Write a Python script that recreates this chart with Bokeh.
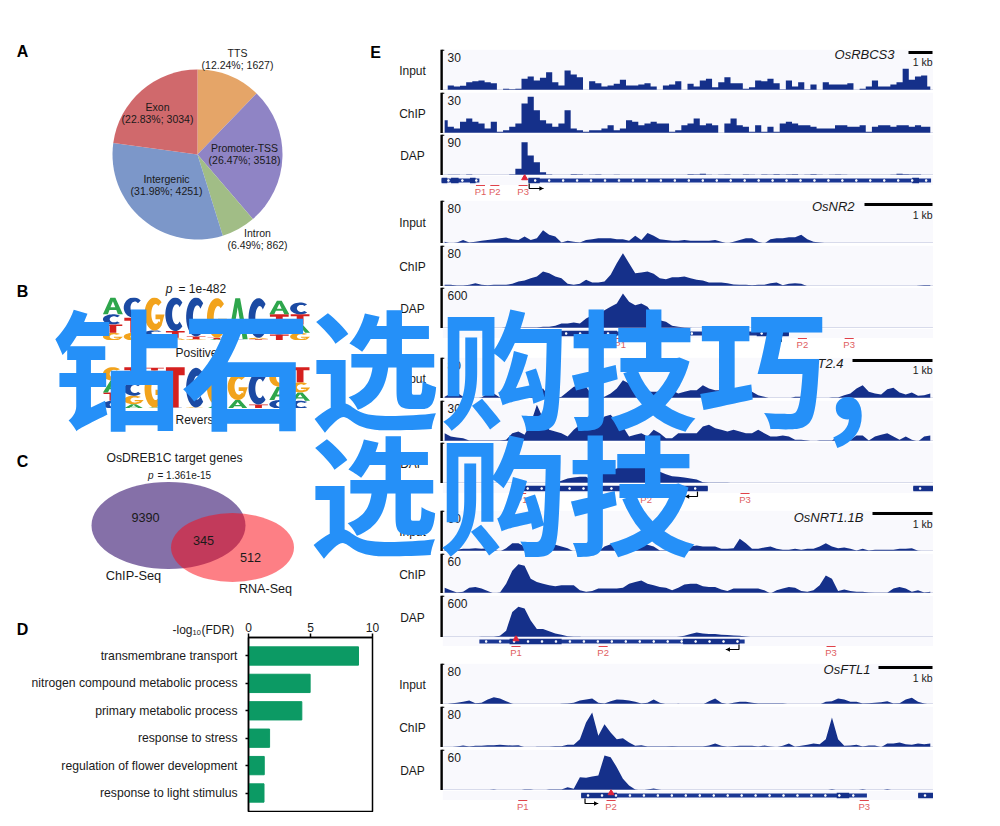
import numpy as np
from bokeh.embed import file_html
from bokeh.resources import INLINE
from bokeh.plotting import figure
from bokeh.models import Range1d, FactorRange, FixedTicker
from bokeh.core.properties import value

# ---------- data ----------
pie_names = ["TTS", "Promoter-TSS", "Intron", "Intergenic", "Exon"]
pie_pcts = [12.24, 26.47, 6.49, 31.98, 22.83]
pie_counts = [1627, 3518, 862, 4251, 3034]

go_terms = ["transmembrane transport", "nitrogen compound metabolic process",
            "primary metabolic process", "response to stress",
            "regulation of flower development", "response to light stimulus"]
go_values = [8.87, 4.97, 4.3, 1.7, 1.27, 1.25]

venn_counts = [9390, 345, 512]

logo_positive = [
    [("G",23),("T",25),("C",30),("A",50)], [("G",23),("T",45),("C",60)],
    [("T",15),("C",15),("G",98)], [("G",8),("T",20),("C",100)],
    [("G",4),("T",8),("C",116)], [("A",4),("T",4),("G",118)],
    [("C",4),("A",122)], [("T",4),("G",4),("C",118)],
    [("T",18),("C",25),("T",35),("A",40)], [("G",23),("A",25),("T",30),("C",35)]]
logo_reverse = [
    [("C",23),("T",25),("A",35),("G",40)], [("A",13),("G",25),("C",40),("T",45)],
    [("A",3),("G",110),("T",8)], [("C",3),("T",120)],
    [("G",3),("C",118)], [("A",10),("G",108)],
    [("A",25),("G",80),("T",15)], [("T",12),("C",95),("T",10)],
    [("C",25),("A",40),("G",55)], [("C",23),("A",25),("G",30),("T",45)]]

rbcs_input = [0,15,12,14,25,28,30,25,22,0,5,4,5,35,42,30,38,55,25,15,60,48,40,0,28,22,12,15,20,32,15,15,18,22,12,0,15,18,28,0,20,12,30,35,10,25,40,22,22,5,10,30,28,35,22,3,30,12,25,3,18,0,25,18,18,18,22,0,5,12,30,12,12,18,25,65,32,42,45,12]
rbcs_chip = [40,20,15,35,45,35,30,15,35,5,10,20,30,90,110,70,40,30,20,30,70,15,10,5,10,10,15,25,10,15,40,35,25,30,35,30,30,5,10,25,30,45,25,30,25,0,30,45,25,20,5,25,5,20,5,30,35,30,25,25,20,15,15,15,25,25,20,20,25,5,20,25,25,20,25,25,20,25,20,20]
rbcs_dap = [0,2,2,1,3,1,0,0,0,0,1,3,20,100,60,40,10,3,1,1,0,4,3,0,2,3,1,0,2,0,0,0,0,0,0,1,1,0,0,0,4,3,5,2,0,2,3,0,0,3,2,0,3,2,4,2,3,4,1,2,4,2,0,2,3,2,0,0,0,0,0,0,0,2,5,4,3,3,0,0]
nr2_input = [5,0,3,10,3,5,8,10,12,15,17,12,10,20,10,15,38,25,20,3,8,5,3,10,12,15,15,15,12,12,8,22,10,30,22,12,10,8,8,10,8,8,8,8,10,5,0,5,10,15,15,5,0,12,15,15,18,18,25,12,5,3,1,1,1,1,0,0,0,0,0,0,0,0,0,0,0,0,0,0]
nr2_chip = [5,5,3,3,5,10,5,4,5,5,5,8,15,18,25,30,45,40,30,25,8,5,8,20,12,12,15,35,70,100,70,40,42,45,38,25,22,28,28,30,25,20,18,12,12,12,10,6,5,5,4,5,5,10,12,4,8,10,8,1,0,0,0,0,0,0,0,0,0,0,0,0,0,0,0,0,0,2,4,4]
nr2_dap = [0,0,0,0,0,0,0,0,0,1,3,3,2,3,3,3,5,5,8,15,15,18,15,30,40,40,55,65,75,105,80,70,75,65,40,25,20,8,5,3,2,0,0,0,0,0,0,0,0,0,0,0,0,0,0,0,0,0,0,0,0,0,0,0,0,0,0,0,0,0,0,0,0,0,0,0,0,0,0,0]
nrt24_input = [5,15,18,5,5,0,3,15,15,3,5,10,20,22,5,22,30,5,0,5,20,35,40,35,10,5,5,15,30,55,45,40,25,20,20,20,25,25,15,20,25,25,40,30,25,25,25,25,25,25,20,10,5,0,0,0,0,5,5,5,0,0,0,3,3,10,15,30,40,20,15,12,28,32,18,12,18,8,10,15]
nrt24_chip = [25,15,12,10,3,3,3,3,3,3,5,25,30,20,55,110,70,35,30,25,15,35,50,55,60,55,75,80,60,45,15,20,25,15,35,25,10,10,25,25,25,25,45,50,40,35,30,35,30,25,25,35,25,15,15,18,15,5,5,3,0,3,3,3,15,5,5,18,18,3,15,20,25,15,5,15,5,0,15,18]
nrt24_dap = [0,0,0,1,1,0,0,0,0,0,0,0,0,0,0,0,0,1,3,8,15,18,20,20,10,18,35,40,45,55,60,60,60,60,50,35,28,22,20,18,15,12,4,2,2,2,2,1,1,0,0,0,0,0,0,0,0,0,0,0,0,0,0,0,0,0,0,0,0,1,1,0,0,0,0,0,0,0,0,0]
nrt11_input = [15,5,5,8,8,10,8,10,5,0,10,25,25,15,10,5,5,15,20,15,10,0,0,5,5,0,15,22,8,10,15,15,18,20,15,3,3,3,3,5,15,18,15,15,15,8,8,10,38,25,8,8,12,15,8,5,5,8,5,8,8,15,25,15,10,12,8,3,8,3,5,5,5,5,8,8,10,2,1,1]
nrt11_chip = [18,10,3,5,18,20,15,8,0,3,30,70,90,85,45,35,30,25,22,25,25,25,10,5,8,15,15,15,15,18,30,35,40,30,25,20,18,10,18,28,30,30,22,20,20,12,8,15,15,15,15,15,10,0,10,15,20,18,8,5,10,25,55,45,8,12,8,5,5,3,2,2,2,15,20,15,5,10,3,5]
nrt11_dap = [0,0,0,0,0,1,2,2,2,5,20,75,90,85,50,25,25,18,12,8,4,2,2,0,0,0,0,0,0,1,0,0,1,0,0,1,1,0,2,5,10,15,12,10,10,8,7,6,5,3,1,0,0,0,0,1,0,0,0,0,0,0,0,0,0,0,0,0,0,0,0,0,0,0,0,0,0,0,0,0]
ftl_input = [0,3,5,8,12,4,5,15,22,18,10,2,0,0,0,0,0,0,0,2,3,5,12,15,18,5,3,10,15,14,12,8,3,5,15,5,1,0,2,0,0,0,0,10,18,5,1,5,8,8,5,3,3,3,3,3,1,0,0,0,0,0,8,10,18,15,8,8,3,4,5,7,10,3,4,15,20,8,3,0]
ftl_chip = [1,1,3,6,3,5,5,7,7,8,7,6,7,1,0,2,2,2,4,4,8,8,25,75,105,35,70,45,25,28,15,5,7,3,3,3,3,4,3,3,3,3,3,6,12,5,2,4,5,5,5,3,6,3,1,5,12,2,5,8,12,10,25,90,25,5,6,8,3,6,6,1,12,12,15,10,8,12,10,12]
ftl_dap = [0,0,0,0,1,1,1,1,3,0,0,0,0,3,3,0,0,3,3,3,10,5,40,38,42,45,105,100,70,35,15,3,0,3,6,2,0,0,0,0,0,0,0,0,0,0,0,0,0,0,0,0,0,0,0,0,0,0,0,0,0,0,0,4,0,0,0,0,4,0,0,0,4,0,0,0,0,0,0,0]

gene_names = ["OsRBCS3", "OsNR2", "OsNRT2.4", "OsNRT1.1B", "OsFTL1"]
track_scale_text = [["30", "30", "90"], ["80", "80", "600"], ["80", "30", "60"], ["60", "60", "600"], ["80", "80", "60"]]
track_values = [[rbcs_input, rbcs_chip, rbcs_dap], [nr2_input, nr2_chip, nr2_dap],
                [nrt24_input, nrt24_chip, nrt24_dap], [nrt11_input, nrt11_chip, nrt11_dap],
                [ftl_input, ftl_chip, ftl_dap]]
gene_thin = [[(215,315),(445,1512)], [(490,1135)], [(425,920),(1465,1517)], [(315,1018)], [(585,1342),(1478,1517)]]
gene_thick = [[(215,230),(240,260),(290,305),(445,475),(1462,1480)], [(520,680),(1050,1135)],
              [(425,920),(1465,1517)], [(395,533),(855,1005)], [(585,680),(1262,1295),(1478,1517)]]
probe_pos = [[318,356,431], [688,1171,1295], [427,757,1019], [412,643,1247], [430,664,1335]]
probe_hit = [435, 688, 427, 412, 664]
probe_hit_shown = [True, False, False, True, True]
tss_arrow = [(447,485), (1115,1095), (893,860), (1003,968), (595,630)]

# ---------- layout geometry (reference pixels) ----------
track_boxes = [[(49,90),(92,133),(134,175)], [(200,243),(245,286),(287,328)],
               [(357,398),(400,441),(442,483)], [(510,551),(553,593),(595,637)],
               [(663,704),(706,747),(749,790)]]
gene_y = [180, 333, 488, 641, 795]
bar_left = [908, 864, 852, 872, 878]
name_right = [894, 854, 843, 863, 870]
name_y = [54, 206, 363, 517, 669]
bar_y = [52, 204, 360, 513, 667]
kb_y = [61, 214, 369, 523, 677]
SANS = "Liberation Sans"
NAVY = "#15308a"
children = []

def place(fig, x0, y0):
    fig.styles = {"position": "absolute", "left": f"{x0}px", "top": f"{y0}px"}
    children.append(fig)
    return fig

def blank(x0, y0, x1, y1, xr, yr):
    f = figure(width=int(x1-x0), height=int(y1-y0), x_range=xr, y_range=yr, output_backend="svg",
               toolbar_location=None, min_border=0, outline_line_color=None,
               background_fill_alpha=0, border_fill_alpha=0, tools="")
    f.axis.visible = False
    f.grid.visible = False
    return place(f, x0, y0)

# panel A: pie
cum = np.cumsum([0] + pie_pcts) / sum(pie_pcts) * 2 * np.pi
pa = blank(107, 64, 287, 244, Range1d(-90, 90), Range1d(-90, 90))
pie_colors = ["#e5a568", "#8f84c5", "#a1bd86", "#7c97c9", "#d0696c"]
pa.wedge(x=0, y=0, radius=85, start_angle=np.pi/2 - cum[:-1], end_angle=np.pi/2 - cum[1:],
         direction="clock", fill_color=pie_colors, line_color=None)

# panel B: logos
def letter_shape(ch):
    t = np.linspace(np.radians(45), np.radians(315), 30)
    if ch == "A":
        return [[0,.25,.33,.67,.75,1,.62,.38], [.38,.62,.5]], [[0,0,.26,.26,0,0,1,1], [.42,.42,.78]]
    if ch == "T":
        return [[.03,.97,.97,.67,.67,.33,.33,.03]], [[1,1,.8,.8,0,0,.8,.8]]
    ox, oy = .5+.5*np.cos(t), .5+.5*np.sin(t)
    ix, iy = .56+.22*np.cos(t[::-1]), .5+.3*np.sin(t[::-1])
    if ch == "C":
        return [list(ox)+list(ix)], [list(oy)+list(iy)]
    return [list(ox)+[1,.55,.55,.78,.78]+list(ix[:-1])], [list(oy)+[.48,.48,.34,.34,.24]+list(iy[:-1])]

logo_colors = {"A": "#2ea64c", "C": "#1b4aa3", "G": "#f2a31c", "T": "#d5201f"}
def draw_logo(cols, y0, y1):
    f = blank(102, y0, 310, y1, Range1d(0, len(cols)), Range1d(0, 128))
    xs, ys, cs = [], [], []
    for i, stack in enumerate(cols):
        b = 0
        for ch, h in stack:
            sx, sy = letter_shape(ch)
            xs.append([[list(i + .02 + .96*np.array(r)) for r in sx]])
            ys.append([[list(b + h*np.array(r)) for r in sy]])
            cs.append(logo_colors[ch])
            b += h
    f.multi_polygons(xs=xs, ys=ys, fill_color=cs, line_color=None)
draw_logo(logo_positive, 297, 340)
draw_logo(logo_reverse, 365, 408)

# panel C: venn
pc = blank(85, 475, 300, 600, Range1d(85, 300), Range1d(600, 475))
pc.ellipse(x=168, y=525, width=154, height=87, fill_color="#8570a8", line_color=None)
pc.ellipse(x=232, y=547, width=123, height=69, fill_color="#fc0a15", fill_alpha=0.52, line_color=None)

# panel D: bars with real axes
pd_ = figure(width=124+228+12, height=174+27+1, x_range=Range1d(0, 10.0),
             y_range=FactorRange(factors=go_terms[::-1], range_padding=0.175, range_padding_units="absolute"),
             x_axis_location="above", output_backend="svg", toolbar_location=None, tools="",
             min_border=0, min_border_left=228, min_border_right=12, min_border_top=27, min_border_bottom=1,
             outline_line_color="black", outline_line_width=1.5, background_fill_alpha=0, border_fill_alpha=0)
pd_.hbar(y=go_terms, right=go_values, height=0.668, color="#0c9a64")
pd_.grid.visible = False
pd_.xaxis.ticker = FixedTicker(ticks=[0, 5, 10])
pd_.xaxis.minor_tick_line_color = None
pd_.xaxis.major_tick_in = 0
pd_.xaxis.major_tick_out = 4
pd_.xaxis.major_label_text_font = SANS
pd_.xaxis.major_label_text_font_size = "12px"
pd_.xaxis.major_label_text_color = "#1a1a1a"
pd_.xaxis.major_label_standoff = 2
pd_.yaxis.major_tick_in = 0
pd_.yaxis.major_tick_out = 3
pd_.yaxis.major_label_text_font = SANS
pd_.yaxis.major_label_text_font_size = "12.2px"
pd_.yaxis.major_label_text_color = "#1a1a1a"
pd_.yaxis.major_label_standoff = 8
pd_.axis.axis_line_width = 1.5
pd_.axis.major_tick_line_width = 1.5
pd_.axis.axis_line_color = "black"
pd_.axis.major_tick_line_color = "black"
place(pd_, 20, 610)

# panel E
XZ0, XZ1 = (438-360)*2.65, (934-360)*2.65
def track(vals, y0, y1, stepped):
    f = blank(438, y0, 934, y1, Range1d(XZ0, XZ1), Range1d(0, y1-y0))
    f.quad(left=[218], right=[1517], bottom=[0], top=[y1-y0], fill_color="#f9f9fd", line_color=None)
    xs = np.linspace(223, 1510, len(vals))
    hs = np.array(vals) / 123 * (y1 - y0)
    if stepped:
        f.varea_step(x=xs, y1=[0]*len(xs), y2=hs, step_mode="center", fill_color=NAVY)
    else:
        f.varea(x=xs, y1=0, y2=hs, fill_color=NAVY)
    f.segment(x0=[218], x1=[1517], y0=[.4], y1=[.4], line_color="#a9afd0", line_width=1)
    bx = 215
    f.segment(x0=[bx], x1=[bx], y0=[0], y1=[y1-y0], line_color="black", line_width=2.4)
    f.segment(x0=[bx], x1=[bx+7], y0=[y1-y0-.6], y1=[y1-y0-.6], line_color="black", line_width=1.2)

for g in range(5):
    for k in range(3):
        y0, y1 = track_boxes[g][k]
        track(track_values[g][k], y0, y1, g == 0)
    gy = gene_y[g]
    f = blank(438, gy-6, 934, gy+20, Range1d(XZ0, XZ1), Range1d(gy+20, gy-6))
    f.quad(left=[218], right=[1517], bottom=[gy-4.5], top=[gy+4.5], fill_color="#f9f9fd", line_color=None)
    thin_l = [a for a, b in gene_thin[g]]; thin_r = [b for a, b in gene_thin[g]]
    f.quad(left=thin_l, right=thin_r, bottom=gy+2, top=gy-2, fill_color="#1a3794", line_color=None)
    l = [a for a, b in gene_thick[g]]; r = [b for a, b in gene_thick[g]]
    f.quad(left=l, right=r, bottom=gy+2.8, top=gy-2.8, fill_color=NAVY, line_color=None)
    dots = np.concatenate([np.arange(a+18, b, 37) for a, b in gene_thin[g]])
    f.scatter(x=dots, y=[gy]*len(dots), size=1.4, marker="square", color="white")
    px = probe_pos[g]
    f.segment(x0=[p-12 for p in px], x1=[p+12 for p in px], y0=[gy+5]*3, y1=[gy+5]*3, line_color="#e0424a", line_width=1)
    f.text(x=px, y=[gy+10.5]*3, text=[f"P{i+1}" for i in range(3)], text_font=value(SANS), text_font_size="9.5px",
           text_color="#e0605f", text_align="center", text_baseline="middle")
    if probe_hit_shown[g]:
        f.scatter(x=[probe_hit[g]], y=[gy-2.5], size=6, marker="triangle", color="#e0243a")
    a0, a1 = tss_arrow[g]
    f.line(x=[a0, a0, a1], y=[gy+3, gy+8, gy+8], line_color="black", line_width=1.2)
    d = 1 if a1 > a0 else -1
    f.patch(x=[a1, a1-d*11, a1-d*11], y=[gy+8, gy+5.8, gy+10.2], fill_color="black", line_color=None)

# labels and overlay: one transparent sheet in reference pixels
sheet = blank(0, 0, 1000, 826, Range1d(0, 1000), Range1d(826, 0))
def T(x, y, s, size=11, align="center", color="#1a1a1a", style="normal", font=SANS):
    sheet.text(x=[x], y=[y], text=[s], text_font=value(font), text_font_size=f"{size}px", text_color=color,
               text_align=align, text_baseline="middle", text_font_style=style)

for ch, x, y in [("A", 22, 51), ("B", 22, 291), ("C", 22, 461), ("D", 22, 629), ("E", 375, 52)]:
    T(x, y, ch, 16, style="bold", color="black")
pie_pos = [(237, 52), (244, 147), (257, 232), (166, 178), (157, 106)]
for n, pct, cnt, (x, y) in zip(pie_names, pie_pcts, pie_counts, pie_pos):
    T(x, y, n, 10.5)
    T(x, y+12.7, f"({pct}%; {cnt})", 10.5)

T(172, 288, "p", 12, align="right", style="italic")
T(178, 288, "= 1e-482", 12, align="left")
T(175, 352, "Positive", 12, align="left")
T(175, 419, "Reverse", 12, align="left")
T(174, 457, "OsDREB1C target genes", 12.2)
T(153, 475, "p", 10, align="right", style="italic")
T(157, 475, "= 1.361e-15", 10, align="left")
T(145, 517, str(venn_counts[0]), 12.7)
T(203, 540, str(venn_counts[1]), 12.7)
T(250, 557, str(venn_counts[2]), 12.7)
T(133, 575, "ChIP-Seq", 12.8)
T(265, 588, "RNA-Seq", 12.6)
T(172, 629, "-log", 12, align="left")
T(192, 632, "10", 7.5, align="left")
T(201, 629, "(FDR)", 12, align="left")

for g in range(5):
    for k, name in enumerate(["Input", "ChIP", "DAP"]):
        y0, y1 = track_boxes[g][k]
        T(412, (y0+y1)/2 + 1, name, 12)
        T(447, y0+8, track_scale_text[g][k], 12, align="left")
    T(name_right[g], name_y[g], gene_names[g], 13, align="right", style="italic")
    sheet.segment(x0=[bar_left[g]], x1=[932], y0=[bar_y[g]], y1=[bar_y[g]], line_color="black", line_width=2.8)
    T(932, kb_y[g], "1 kb", 10.5, align="right")

BLUE = "#2590f8"
T(52, 363, "钻石选购技巧,", 129, align="left", color=BLUE, style="bold", font="Noto Sans CJK SC")
T(309, 489, "选购技", 129, align="left", color=BLUE, style="bold", font="Noto Sans CJK SC")

open("out.html", "w").write(file_html(children, INLINE))
